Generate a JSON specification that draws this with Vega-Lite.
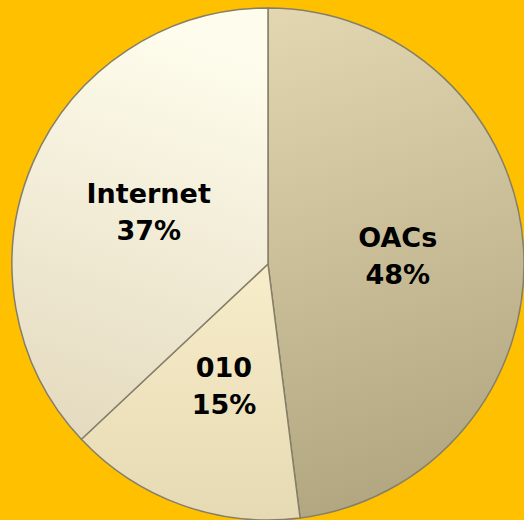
{
  "$schema": "https://vega.github.io/schema/vega-lite/v6.json",
  "width": 512,
  "height": 512,
  "padding": {"left": 12, "top": 8, "right": 0, "bottom": 0},
  "autosize": {"type": "none"},
  "background": "#FFC000",
  "config": {"view": {"stroke": null}},
  "data": {"values": [
    {"source": "OACs", "pct": 48, "ord": 1, "label": "OACs\n48%"},
    {"source": "010", "pct": 15, "ord": 2, "label": "010\n15%"},
    {"source": "Internet", "pct": 37, "ord": 3, "label": "Internet\n37%"}
  ]},
  "transform": [
    {"window": [{"op": "sum", "field": "pct", "as": "cum"}], "sort": [{"field": "ord"}], "frame": [null, 0]},
    {"calculate": "datum.cum - datum.pct", "as": "start"},
    {"calculate": "(datum.cum + datum.start) / 2", "as": "mid"}
  ],
  "layer": [
    {
      "transform": [{"filter": "datum.source == 'OACs'"}],
      "mark": {"type": "arc", "outerRadius": 256, "stroke": "#857F6A", "strokeWidth": 1.5,
        "fill": {"gradient": "linear", "x1": 0, "y1": 0, "x2": 0.15, "y2": 1,
          "stops": [{"offset": 0, "color": "#E2D7B1"}, {"offset": 1, "color": "#B3A782"}]}},
      "encoding": {"theta": {"field": "start", "type": "quantitative", "scale": {"domain": [0, 100]}},
        "theta2": {"field": "cum"}}
    },
    {
      "transform": [{"filter": "datum.source == '010'"}],
      "mark": {"type": "arc", "outerRadius": 256, "stroke": "#857F6A", "strokeWidth": 1.5,
        "fill": {"gradient": "linear", "x1": 0, "y1": 0, "x2": 0, "y2": 1,
          "stops": [{"offset": 0, "color": "#F7EDC8"}, {"offset": 1, "color": "#E6DAB4"}]}},
      "encoding": {"theta": {"field": "start", "type": "quantitative", "scale": {"domain": [0, 100]}},
        "theta2": {"field": "cum"}}
    },
    {
      "transform": [{"filter": "datum.source == 'Internet'"}],
      "mark": {"type": "arc", "outerRadius": 256, "stroke": "#857F6A", "strokeWidth": 1.5,
        "fill": {"gradient": "linear", "x1": 0.3, "y1": 0, "x2": 0.1, "y2": 1,
          "stops": [{"offset": 0, "color": "#FEFCEC"}, {"offset": 1, "color": "#E3D9BD"}]}},
      "encoding": {"theta": {"field": "start", "type": "quantitative", "scale": {"domain": [0, 100]}},
        "theta2": {"field": "cum"}}
    },
    {
      "mark": {"type": "text", "radius": 130, "font": "DejaVu Sans", "fontWeight": "bold", "fontSize": 27, "lineBreak": "\n", "lineHeight": 37, "baseline": "middle", "dy": -17, "color": "#000000"},
      "encoding": {
        "theta": {"field": "mid", "type": "quantitative", "scale": {"domain": [0, 100]}},
        "text": {"field": "label"}
      }
    }
  ]
}
